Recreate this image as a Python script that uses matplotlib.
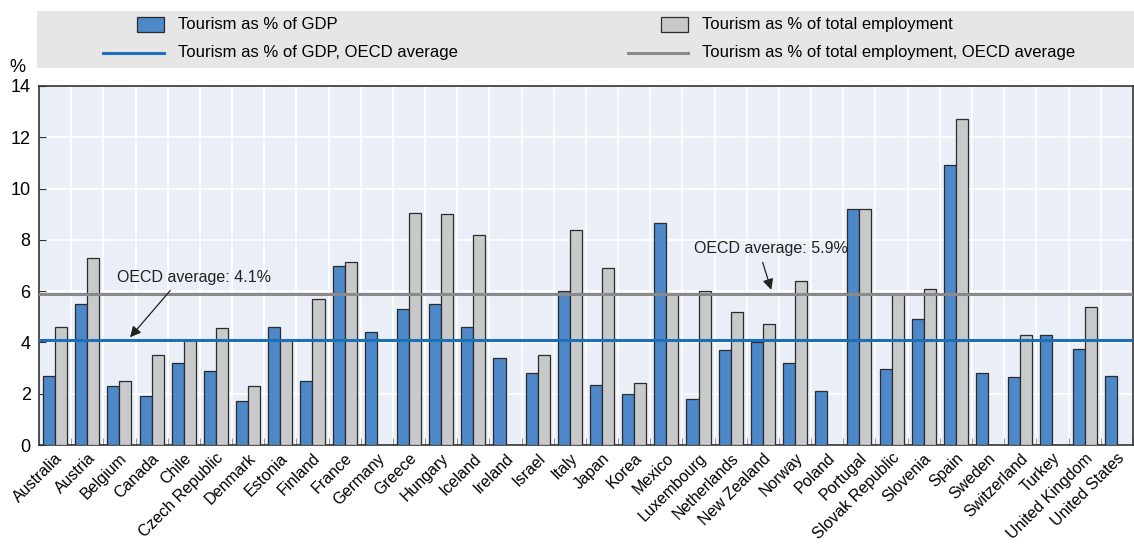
import numpy as np
import matplotlib
matplotlib.use("Agg")
import matplotlib.pyplot as plt
from matplotlib.patches import Rectangle
from matplotlib.lines import Line2D
from matplotlib import font_manager

# ---- data ----
countries = ["Australia", "Austria", "Belgium", "Canada", "Chile", "Czech Republic",
             "Denmark", "Estonia", "Finland", "France", "Germany", "Greece", "Hungary",
             "Iceland", "Ireland", "Israel", "Italy", "Japan", "Korea", "Mexico",
             "Luxembourg", "Netherlands", "New Zealand", "Norway", "Poland", "Portugal",
             "Slovak Republic", "Slovenia", "Spain", "Sweden", "Switzerland", "Turkey",
             "United Kingdom", "United States"]
gdp = [2.7, 5.5, 2.3, 1.9, 3.2, 2.9, 1.7, 4.6, 2.5, 7.0, 4.4, 5.3, 5.5, 4.6, 3.4,
       2.8, 6.0, 2.35, 2.0, 8.65, 1.8, 3.7, 4.0, 3.2, 2.1, 9.2, 2.95, 4.9, 10.9,
       2.8, 2.65, 4.3, 3.75, 2.7]
emp = [4.6, 7.3, 2.5, 3.5, 4.1, 4.55, 2.3, 4.1, 5.7, 7.15, np.nan, 9.05, 9.0, 8.2,
       np.nan, 3.5, 8.4, 6.9, 2.4, 5.9, 6.0, 5.2, 4.7, 6.4, np.nan, 9.2, 5.9, 6.1,
       12.7, np.nan, 4.3, np.nan, 5.4, np.nan]
avg_gdp = 4.1
avg_emp = 5.9

BLUE = "#4d88c8"
GREY = "#c8c9cb"
LINE_BLUE = "#1c6fb8"
LINE_GREY = "#8a8a8a"
EDGE = "#2b2b2b"

names = {f.name for f in font_manager.fontManager.ttflist}
FONT = "Liberation Sans Narrow" if "Liberation Sans Narrow" in names else "Liberation Sans"
plt.rcParams["font.family"] = [FONT, "DejaVu Sans"]

fig = plt.figure(figsize=(11.34, 5.48), dpi=100)
ax = fig.add_axes([39/1134, 1 - 445/548, 1 - 39/1134 - 0.001, (445 - 86)/548])
ax.set_facecolor("#e9eef7")

n = len(countries)
x = np.arange(n)
w = 0.375
ax.bar(x - w/2, gdp, w, color=BLUE, edgecolor=EDGE, linewidth=0.9, zorder=3)
ax.bar(x + w/2, emp, w, color=GREY, edgecolor=EDGE, linewidth=0.9, zorder=3)
ax.axhline(avg_emp, color=LINE_GREY, lw=2.2, zorder=4)
ax.axhline(avg_gdp, color=LINE_BLUE, lw=2.2, zorder=4)

ax.set_xlim(-0.5, n - 0.5)
ax.set_ylim(0, 14)
ax.set_yticks(np.arange(0, 15, 2))
ax.set_xticks(x)
ax.set_xticklabels(countries, rotation=45, ha="right", rotation_mode="anchor", fontsize=11.5)
ax.tick_params(axis="x", length=0, pad=4)
ax.tick_params(axis="y", direction="in", length=5, labelsize=13, color="#333", pad=6)
ax.set_xticks(np.arange(-0.5, n, 1), minor=True)
ax.tick_params(axis="x", which="minor", direction="in", length=5, color="#888")
for v in np.arange(0.5, n - 1, 1):
    ax.axvline(v, color="white", lw=1.2, zorder=1)
for v in range(2, 14, 2):
    ax.axhline(v, color="white", lw=1.2, zorder=1)
for s in ax.spines.values():
    s.set_color("#333")
    s.set_linewidth(1.2)

ax.annotate("OECD average: 4.1%", xy=(2.33, 4.2), xytext=(1.92, 6.55),
            fontsize=11.5, color="#222", ha="left", va="center",
            arrowprops=dict(arrowstyle="-|>", color="#222", lw=0.9,
                            shrinkA=3, shrinkB=0, mutation_scale=16, relpos=(0.38, 0)),
            zorder=6)
ax.annotate("OECD average: 5.9%", xy=(22.26, 6.05), xytext=(19.87, 7.68),
            fontsize=11.5, color="#222", ha="left", va="center",
            arrowprops=dict(arrowstyle="-|>", color="#222", lw=0.9,
                            shrinkA=3, shrinkB=0, mutation_scale=16, relpos=(0.43, 0)),
            zorder=6)

fig.text(17/1134, 1 - 68/548, "%", fontsize=13, ha="center", va="center")

# legend box
lg = fig.add_axes([37/1134, 1 - 68/548, 1 - 37/1134, 57/548])
lg.set_xlim(0, 1097)
lg.set_ylim(57, 0)
lg.axis("off")
lg.add_patch(Rectangle((0, 0), 1097, 57, color="#e6e6e6", zorder=0))
lg.add_patch(Rectangle((100, 6), 27, 15, facecolor=BLUE, edgecolor=EDGE, lw=0.9))
lg.add_patch(Rectangle((624, 6), 27, 15, facecolor=GREY, edgecolor=EDGE, lw=0.9))
lg.add_line(Line2D([66, 127], [42, 42], color=LINE_BLUE, lw=2.2))
lg.add_line(Line2D([591, 651], [42, 42], color=LINE_GREY, lw=2.2))
lg.text(141, 13.5, "Tourism as % of GDP", fontsize=12, va="center")
lg.text(665, 13.5, "Tourism as % of total employment", fontsize=12, va="center")
lg.text(141, 42, "Tourism as % of GDP, OECD average", fontsize=12, va="center")
lg.text(665, 42, "Tourism as % of total employment, OECD average", fontsize=12, va="center")

fig.savefig("out.png", dpi=100)
